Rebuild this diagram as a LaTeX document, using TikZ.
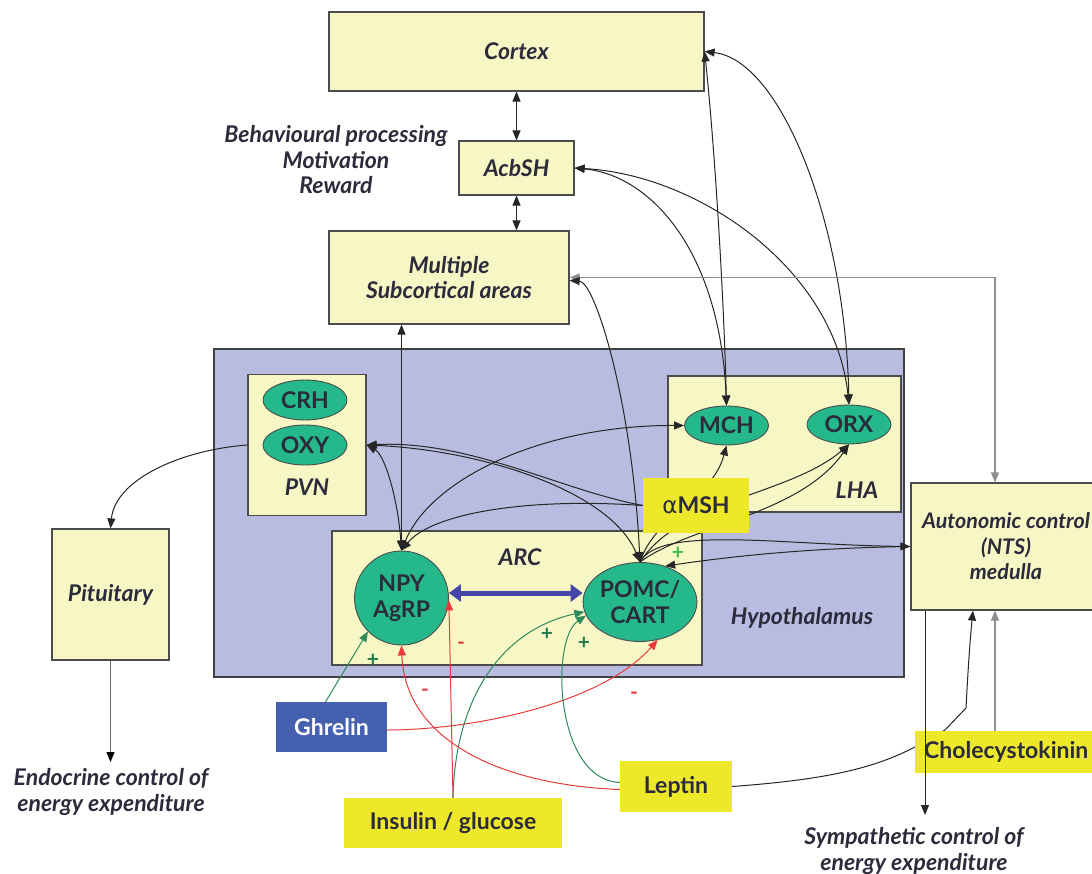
\documentclass[tikz,border=0pt]{standalone}
\usepackage{fontspec}
\setmainfont{Lato}
\newfontfamily\grk{DejaVu Sans}
\usetikzlibrary{arrows.meta,shapes.geometric,calc}
\definecolor{boxy}{HTML}{F7F7C6}
\definecolor{hypo}{HTML}{B8BCE0}
\definecolor{ellg}{HTML}{24B88B}
\definecolor{tagy}{HTML}{EEE82A}
\definecolor{ghr}{HTML}{4560AE}
\definecolor{txt}{HTML}{2B2B3B}
\definecolor{lred}{HTML}{E83A3A}
\definecolor{lgreen}{HTML}{2E8A5A}
\definecolor{pgreen}{HTML}{1F7D4D}
\definecolor{lplus}{HTML}{3DBE4A}
\definecolor{barrow}{HTML}{4646A8}
\definecolor{gline}{HTML}{8E8E8E}
\begin{document}
\begin{tikzpicture}[x=1pt,y=-1pt,
  every node/.style={text=txt},
  ybox/.style={draw=black!70, line width=1.2pt, fill=boxy, inner sep=0pt, align=center,
    font=\fontsize{23}{25.5}\selectfont\bfseries\itshape},
  hypbox/.style={draw=black!75, line width=1.2pt, fill=hypo, inner sep=0pt},
  lab/.style={inner sep=0pt, align=center, font=\fontsize{23}{25.5}\selectfont\bfseries\itshape},
  ell/.style={ellipse, draw=black!70, line width=0.9pt, fill=ellg, inner sep=0pt, align=center,
    font=\fontsize{23}{26}\selectfont\bfseries},
  tag/.style={fill=tagy, inner sep=0pt, align=center, font=\fontsize{23}{25}\selectfont\bfseries},
  con/.style={line width=1pt, black!85},
  arr/.style={con, -{Triangle[length=10pt,width=8pt]}},
  darr/.style={con, {Triangle[length=10pt,width=8pt]}-{Triangle[length=10pt,width=8pt]}},
  redarr/.style={line width=1pt, lred, -{Triangle[length=10pt,width=8pt]}},
  grnarr/.style={line width=1pt, lgreen, -{Triangle[length=10pt,width=8pt]}},
  sign/.style={inner sep=0pt, font=\fontsize{21}{22}\selectfont\bfseries},
]
\useasboundingbox (0,0) rectangle (1092,874);

% ---- upper boxes
\node[ybox, minimum width=375pt, minimum height=79pt] (cortex) at (516.5,51.5) {Cortex};
\node[ybox, minimum width=115pt, minimum height=54pt] (acb) at (516.5,168) {AcbSH};
\node[ybox, minimum width=240pt, minimum height=93pt] (mult) at (449,277.5) {Multiple\\Subcortical areas};
\node[lab] (behav) at (336,160) {Behavioural processing\\Motivation\\Reward};

% ---- hypothalamus
\node[hypbox, minimum width=690pt, minimum height=328pt] (hyp) at (559,513) {};
\node[lab] (hyplab) at (802,618) {Hypothalamus};
\node[ybox, minimum width=118pt, minimum height=141pt] (pvn) at (307,445) {};
\node[lab] (pvnlab) at (307,487) {PVN};
\node[ybox, minimum width=233pt, minimum height=136pt] (lha) at (784.5,444) {};
\node[lab] (lhalab) at (857,490) {LHA};
\node[ybox, minimum width=370pt, minimum height=134pt] (arc) at (517,598) {};
\node[lab] (arclab) at (520,557) {ARC};

\node[ell, minimum width=84pt, minimum height=40pt] (crh) at (305,400) {CRH};
\node[ell, minimum width=84pt, minimum height=40pt] (oxy) at (305,445) {OXY};
\node[ell, minimum width=84pt, minimum height=39pt] (mch) at (726.5,425.5) {MCH};
\node[ell, minimum width=84pt, minimum height=39pt] (orx) at (849,424.5) {ORX};
\node[ell, circle, minimum size=94pt] (npy) at (401.5,598) {NPY\\AgRP};
\node[ell, minimum width=108pt, minimum height=79pt] (pomc) at (640,602) {POMC/\\CART};

% ---- side boxes
\node[ybox, minimum width=117pt, minimum height=131pt] (pit) at (110.5,594.5) {Pituitary};
\node[lab] (endo) at (111,792) {Endocrine control of\\energy expenditure};
\coordinate (endoarr) at (110.5,762);
\node[ybox, minimum width=190pt, minimum height=127pt,
  font=\fontsize{21.5}{25.5}\selectfont\bfseries\itshape] (auto) at (1006,546.5) {Autonomic control\\(NTS)\\medulla};
\node[lab] (symp) at (914,851) {Sympathetic control of\\energy expenditure};
\coordinate (symparr) at (925,815);

% ---- upper connectors
\draw[darr] (cortex.south) -- (acb.north);
\draw[darr] (acb.south) -- (acb.south |- mult.north);
\draw[darr] (cortex.east) .. controls (715,150) and (724,300) .. (mch.north);
\draw[darr] (cortex.east) .. controls (780,60) and (845,220) .. (orx.north);
\draw[darr] (acb.east) .. controls (650,175) and (720,250) .. (mch.north);
\draw[darr] (acb.east) .. controls (700,175) and (835,270) .. (orx.north);
\draw[line width=1.2pt, gline, {Triangle[length=10pt,width=8pt]}-{Triangle[length=10pt,width=8pt]}]
  (mult.east) -| ([xshift=-11pt]auto.north);
\draw[darr] ([yshift=-3pt]mult.east) .. controls (595,282) and (632,400) .. (pomc.north);
\draw[darr] (npy.north |- mult.south) -- (npy.north);

% ---- hypothalamic connectors
\draw[darr] (pvn.east) .. controls (385,455) and (398,500) .. (npy.north);
\draw[darr] (pvn.east) .. controls (480,450) and (610,490) .. (pomc.north);
\draw[darr] (mch.west) .. controls (540,425) and (430,480) .. (npy.north);
\draw[arr] (pomc.north) .. controls (655,515) and (712,500) .. (mch.south);
\draw[arr] (pomc.north) .. controls (680,500) and (790,495) .. (orx.south);
\draw[arr] (pomc.north) .. controls (690,525) and (800,515) .. (orx.south);
\draw[arr] (pomc.north) .. controls (660,525) and (780,545) .. (auto.west);
\draw[arr] (auto.west) .. controls (800,548) and (720,558) .. (pomc.55);
\node[sign, text=lplus] (plus0) at (678,553) {+};

\node[tag, minimum width=106pt, minimum height=55pt] (amsh) at (696,505.5) {{\grk\mdseries α}MSH};
\draw[arr] (amsh.west) .. controls (560,490) and (470,440) .. (pvn.east);
\draw[arr] (amsh.west) .. controls (520,497) and (430,515) .. (npy.north);

% thick blue double arrow
\draw[line width=5pt, barrow, {Triangle[length=12pt,width=17pt]}-{Triangle[length=12pt,width=17pt]}]
  (npy.east |- 0,593) -- (pomc.west |- 0,593);

% ---- peripheral signals
\node[fill=ghr, inner sep=0pt, minimum width=111pt, minimum height=50pt, text=white,
  font=\fontsize{23}{25}\selectfont\bfseries] (ghr) at (331.5,727) {Ghrelin};
\node[tag, minimum width=218pt, minimum height=50pt] (ins) at (453,823) {Insulin / glucose};
\node[tag, minimum width=112pt, minimum height=51pt] (lep) at (676,786.5) {Leptin};

\draw[grnarr] ([xshift=-6pt]ghr.north) -- (npy.225);
\draw[redarr] ([yshift=-3pt]ghr.east) .. controls (470,730) and (600,705) .. (pomc.-65);
\draw[redarr] (ins.north) -- (npy.-3);
\draw[grnarr] (ins.north) .. controls (455,700) and (500,630) .. (pomc.190);
\draw[redarr] ([yshift=-3pt]lep.west) .. controls (500,785) and (405,740) .. (npy.south);
\draw[grnarr] ([yshift=4pt]lep.west) .. controls (555,780) and (550,640) .. (pomc.194);

\node[sign, text=pgreen] (p1) at (373,660) {+};
\node[sign, text=lred] (m1) at (461,646) {-};
\node[sign, text=lred] (m2) at (425,693) {-};
\node[sign, text=pgreen] (p2) at (547,634) {+};
\node[sign, text=pgreen] (p3) at (584,643) {+};
\node[sign, text=lred] (m3) at (634,696) {-};

% leptin to autonomic
\draw[arr] (lep.east) .. controls (820,780) and (870,770) .. (913,748) -- (945,730) -- (966,708)
  .. controls (968,670) and (970,640) .. ([xshift=-33pt]auto.south);
\node[tag, anchor=west, inner xsep=9pt, minimum height=42pt] (cck) at (915,752) {Cholecystokinin};
\coordinate (cckup) at ([xshift=-11pt]auto.south);
\draw[line width=1.2pt, gline, -{Triangle[length=10pt,width=8pt]}] (cckup |- cck.north) -- (cckup);
\draw[arr] ([xshift=-81pt]auto.south) -- (symparr);

% pituitary
\draw[arr] (pvn.west) .. controls (180,450) and (115,480) .. (pit.north);
\draw[line width=1.2pt, black!60, -{Triangle[length=10pt,width=8pt,color=black]}] (pit.south) -- (endoarr);
\end{tikzpicture}
\end{document}
